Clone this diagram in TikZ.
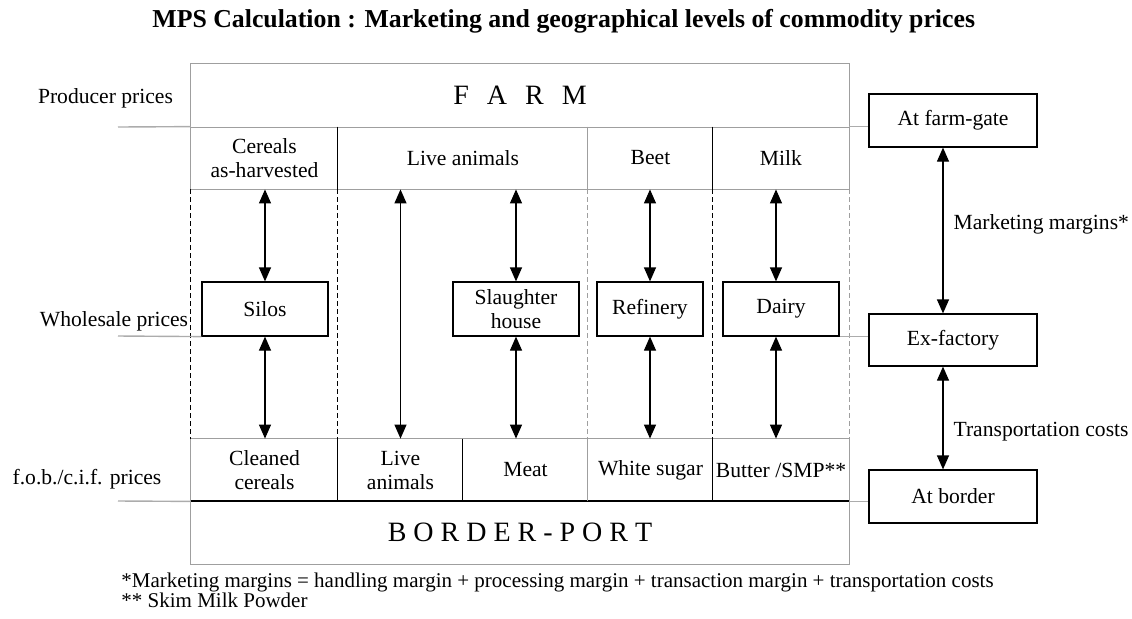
\documentclass[tikz,border=0pt]{standalone}
\usepackage{fontspec}
\setmainfont{Liberation Serif}
\usetikzlibrary{arrows.meta}
\begin{document}
\begin{tikzpicture}[x=0.5pt,y=-0.5pt,
  txt/.style={font=\fontsize{10.8}{12}\selectfont, inner sep=0pt, align=center},
  cell/.style={txt, draw=none},
  bigtxt/.style={font=\fontsize{14}{16}\selectfont, inner sep=0pt},
  stage/.style={txt, draw=black, line width=0.6pt},
  frameline/.style={draw=gray!75, line width=0.8pt},
  divider/.style={draw=black, line width=0.6pt},
  softdivider/.style={draw=gray!75, line width=0.6pt},
  guide/.style={dash pattern=on 2.5pt off 1.5pt, line width=0.6pt},
  pointer/.style={draw=gray!65, line width=0.7pt},
  darr/.style={draw=black, line width=0.6pt, {Triangle[width=6pt,length=7pt]}-{Triangle[width=6pt,length=7pt]}}
]
\useasboundingbox (0,0) rectangle (1132,618);

% title
\node[font=\bfseries\fontsize{12.9}{15}\selectfont, anchor=base west, inner sep=0pt] (title) at (152,27)
  {MPS Calculation : Marketing and geographical levels of commodity prices};

% farm level and its product row
\node[bigtxt, minimum width=329pt, minimum height=31.5pt] (farm) at (520,95.5)
  {F\hspace{9pt}A\hspace{9pt}R\hspace{9pt}M\hspace{4pt}};
\node[cell, minimum width=73.5pt, minimum height=31pt] (cereals) at (264.5,158) {Cereals\\as-harvested};
\node[cell, minimum width=125pt, minimum height=31pt] (liveT) at (463,158) {Live animals};
\node[cell, minimum width=62.5pt, minimum height=31pt] (beet) at (650.5,158) {Beet};
\node[cell, minimum width=68pt, minimum height=31pt] (milk) at (781,158) {Milk};

% border level and its product row
\node[cell, minimum width=73.5pt, minimum height=31pt] (cleaned) at (264.5,470) {Cleaned\\cereals};
\node[cell, minimum width=62.5pt, minimum height=31pt] (liveB) at (400.5,470) {Live\\animals};
\node[cell, minimum width=62.5pt, minimum height=31pt] (meat) at (525.5,470) {Meat};
\node[cell, minimum width=62.5pt, minimum height=31pt] (sugar) at (650.5,470) {White sugar};
\node[cell, minimum width=68pt, minimum height=31pt] (butter) at (781,470) {Butter /SMP**};
\node[bigtxt, minimum width=329pt, minimum height=31.5pt] (border) at (520,532.5) {B O R D E R - P O R T};

% frame outlines
\draw[frameline] (cereals.south west) |- (farm.north east) -- (milk.south east);
\draw[frameline] (farm.south west) -- (farm.south east);
\draw[frameline] (cereals.south west) -- (milk.south east);
\draw[frameline] (cleaned.north west) |- (border.south east) -- (butter.north east);
\draw[frameline] (cleaned.north west) -- (butter.north east);
\draw[divider, line width=1pt] (border.north west) -- (border.north east);

% column dividers
\draw[divider] (liveT.north west) -- (liveT.south west);
\draw[softdivider] (beet.north west) -- (beet.south west);
\draw[divider] (milk.north west) -- (milk.south west);
\draw[divider] (liveB.north west) -- (liveB.south west);
\draw[divider] (meat.north west) -- (meat.south west);
\draw[softdivider] (sugar.north west) -- (sugar.south west);
\draw[divider] (butter.north west) -- (butter.south west);

% dashed column guides between the two levels
\draw[guide, black] (cereals.south west) -- (cleaned.north west);
\draw[guide, black] (liveT.south west) -- (liveB.north west);
\draw[guide, gray!75] (beet.south west) -- (sugar.north west);
\draw[guide, black] (milk.south west) -- (butter.north west);
\draw[guide, gray!75] (milk.south east) -- (butter.north east);

% processing stages
\node[stage, minimum width=63pt, minimum height=27pt] (silos) at (265,309) {Silos};
\node[stage, minimum width=63pt, minimum height=27pt] (slaughter) at (516,309) {Slaughter\\house};
\node[stage, minimum width=53pt, minimum height=27pt] (refinery) at (650,309) {Refinery};
\node[stage, minimum width=58pt, minimum height=27pt] (dairy) at (781,309) {Dairy};

% margins between levels
\draw[darr] (silos.north |- cereals.south) -- (silos.north);
\draw[darr] (silos.south) -- (silos.south |- cleaned.north);
\draw[darr] (liveB.north |- liveT.south) -- (liveB.north);
\draw[darr] (slaughter.north |- liveT.south) -- (slaughter.north);
\draw[darr] (slaughter.south) -- (slaughter.south |- meat.north);
\draw[darr] (refinery.north |- beet.south) -- (refinery.north);
\draw[darr] (refinery.south) -- (refinery.south |- sugar.north);
\draw[darr] ([xshift=-2.5pt]dairy.north |- milk.south) -- ([xshift=-2.5pt]dairy.north);
\draw[darr] ([xshift=-2.5pt]dairy.south) -- ([xshift=-2.5pt]dairy.south |- butter.north);

% price levels on the left
\node[txt] (producer) at (105.5,98) {Producer prices};
\node[txt] (wholesale) at (114,321) {Wholesale prices};
\node[txt] (fob) at (87,479) {f.o.b./c.i.f. prices};
\coordinate (producerend) at (118,127);
\coordinate (wholesaleend) at (118,336);
\coordinate (fobend) at (118,501);
\draw[pointer] (producerend) -- (cereals.north west);
\draw[pointer] (wholesaleend) -- (silos.south west);
\draw[pointer] (fobend) -- (cleaned.south west);

% price stages on the right
\node[stage, minimum width=84pt, minimum height=26.5pt] (farmgate) at (953,120.5) {At farm-gate};
\node[stage, minimum width=84pt, minimum height=26pt] (exfactory) at (953,340) {Ex-factory};
\node[stage, minimum width=84pt, minimum height=26.5pt] (atborder) at (953,496.5) {At border};
\draw[pointer] (milk.north east) -- (milk.north east -| farmgate.west);
\draw[pointer] (dairy.south east) -- (dairy.south east -| exfactory.west);
\draw[pointer] (butter.south east) -- (butter.south east -| atborder.west);
\draw[darr] ([xshift=-5pt]farmgate.south) -- ([xshift=-5pt]exfactory.north)
  node[txt, pos=0.46, anchor=west, xshift=5pt] (marketing) {Marketing margins*};
\draw[darr] ([xshift=-5pt]exfactory.south) -- ([xshift=-5pt]atborder.north)
  node[txt, pos=0.63, anchor=west, xshift=5pt] (transport) {Transportation costs};

% footnotes
\node[txt, anchor=base west, font=\fontsize{10.5}{12}\selectfont] (note1) at (121,587)
  {*Marketing margins = handling margin + processing margin + transaction margin + transportation costs};
\node[txt, anchor=base west, font=\fontsize{10.5}{12}\selectfont] (note2) at (121,607)
  {** Skim Milk Powder};
\end{tikzpicture}
\end{document}
